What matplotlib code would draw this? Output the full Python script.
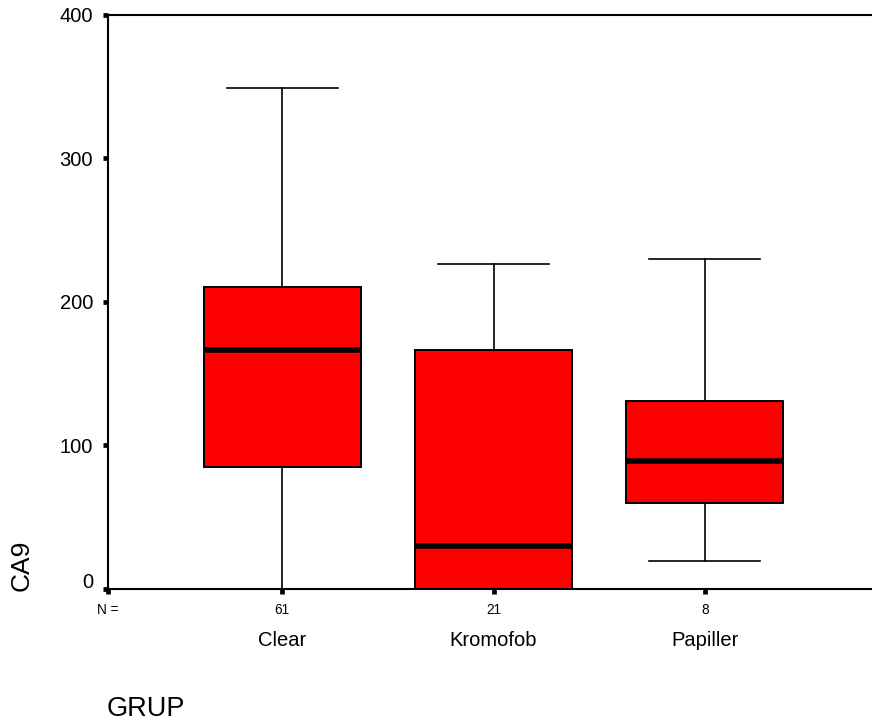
import matplotlib
matplotlib.use('Agg')
import matplotlib.pyplot as plt
import matplotlib.transforms as mtransforms

plt.rcParams['font.family'] = ['Liberation Sans', 'DejaVu Sans']

# Values
groups = ['Clear', 'Kromofob', 'Papiller']
n_counts = [61, 21, 8]
whisker_low = [0, 0, 19.5]
q1 = [85, 0, 60]
medians = [166, 30, 89]
q3 = [210, 166, 131]
whisker_high = [349, 226, 230]
y_ticks = [0, 100, 200, 300, 400]

stats = []
for i in range(len(groups)):
    stats.append({'label': groups[i], 'whislo': whisker_low[i], 'q1': q1[i],
                  'med': medians[i], 'q3': q3[i], 'whishi': whisker_high[i],
                  'fliers': []})

fig = plt.figure(figsize=(8.72, 7.27), dpi=100)
ax = fig.add_axes([0.1235, 0.1902, 1 - 0.1235, 0.7896])

ax.bxp(stats, positions=[1, 2, 3], widths=0.741, capwidths=0.526,
       patch_artist=True, showfliers=False,
       boxprops=dict(facecolor='#ff0000', edgecolor='black', linewidth=1.4),
       medianprops=dict(color='black', linewidth=4, solid_capstyle='butt'),
       whiskerprops=dict(color='black', linewidth=1.2),
       capprops=dict(color='black', linewidth=1.2))

x_left = 0.1733
ax.set_xlim(x_left, 3.792)
ax.set_ylim(0, 400)

# spines like the SPSS chart: left, bottom, top, no right
ax.spines['right'].set_visible(False)
for s in ['left', 'bottom', 'top']:
    ax.spines[s].set_linewidth(1.5)

ax.set_yticks(y_ticks)
ax.set_yticklabels([str(v) for v in y_ticks], fontsize=14.5)
ax.tick_params(axis='y', direction='out', length=3.6, width=3.4, pad=7)

ax.set_xticks([x_left, 1, 2, 3])
ax.set_xticklabels(['N ='] + [str(n) for n in n_counts], fontsize=9.8)
ax.tick_params(axis='x', direction='out', length=3.6, width=3.4, pad=6.5)

# the 0 label sits a little above its tick
zero_lab = ax.get_yticklabels()[0]
zero_lab.set_transform(zero_lab.get_transform() +
                       mtransforms.ScaledTranslation(0, 0.087, fig.dpi_scale_trans))

# group names under the counts
for i, g in enumerate(groups):
    ax.text(i + 1, -0.0906, g, transform=ax.get_xaxis_transform(),
            ha='center', va='center', fontsize=14.5)

fig.text(0.1227, 0.0248, 'GRUP', ha='left', va='center', fontsize=19.5)
fig.text(0.0252, 0.2228, 'CA9', rotation=90, ha='center', va='center', fontsize=19)

plt.savefig('out.png', dpi=100)
